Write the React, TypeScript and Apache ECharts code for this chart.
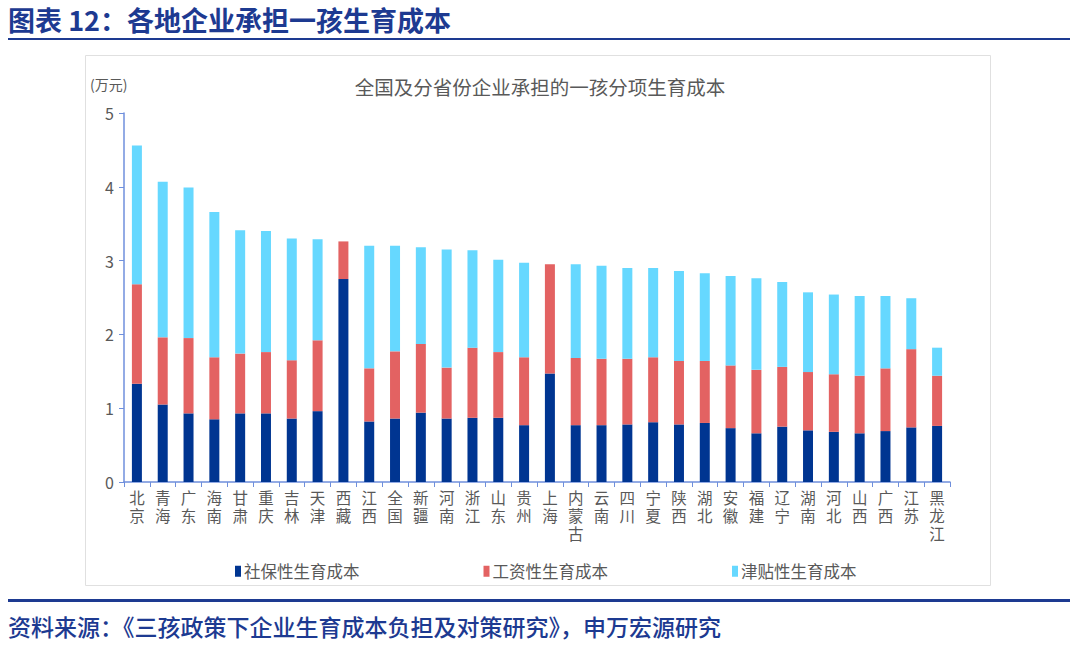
import React, { useEffect, useRef } from "react";
import * as echarts from "echarts";

const categories = ["北京","青海","广东","海南","甘肃","重庆","吉林","天津","西藏","江西","全国","新疆","河南","浙江","山东","贵州","上海","内蒙古","云南","四川","宁夏","陕西","湖北","安徽","福建","辽宁","湖南","河北","山西","广西","江苏","黑龙江"];
const socialCost = [1.33,1.05,0.93,0.85,0.93,0.93,0.86,0.96,2.75,0.82,0.86,0.94,0.86,0.87,0.87,0.77,1.47,0.77,0.77,0.78,0.81,0.78,0.80,0.73,0.66,0.75,0.70,0.68,0.66,0.69,0.74,0.76];
const wageCost = [1.35,0.91,1.02,0.84,0.81,0.83,0.79,0.96,0.51,0.72,0.91,0.93,0.69,0.95,0.89,0.92,1.48,0.91,0.90,0.89,0.88,0.86,0.84,0.85,0.86,0.81,0.79,0.78,0.78,0.85,1.06,0.68];
const allowanceCost = [1.88,2.11,2.04,1.97,1.67,1.64,1.65,1.37,0,1.66,1.43,1.31,1.60,1.32,1.25,1.28,0,1.27,1.26,1.23,1.21,1.22,1.19,1.21,1.24,1.15,1.08,1.08,1.08,0.98,0.69,0.38];
const seriesNames = ["社保性生育成本","工资性生育成本","津贴性生育成本"];
const yTicks = [0, 1, 2, 3, 4, 5];

const FONT = "'Noto Sans CJK SC', 'Noto Sans', sans-serif";
const NAVY = "#1d3a91";

export default function App() {
  const ref = useRef<HTMLDivElement>(null);
  useEffect(() => {
    const chart = echarts.init(ref.current!, null, { renderer: "svg" });
    const mk = (name: string, data: number[], color: string) => ({
      name,
      type: "bar",
      stack: "total",
      barWidth: 10,
      data,
      itemStyle: { color },
    });
    chart.setOption({
      animation: false,
      textStyle: { fontFamily: FONT },
      graphic: [
        { type: "text", left: 8, top: 6, style: { text: "图表 12：各地企业承担一孩生育成本", font: `bold 27px ${FONT}`, fill: NAVY } },
        { type: "rect", shape: { x: 8, y: 38, width: 1062, height: 2 }, style: { fill: NAVY } },
        { type: "rect", shape: { x: 85.5, y: 55.5, width: 905, height: 530 }, style: { fill: "none", stroke: "#e0e0e0", lineWidth: 1 } },
        { type: "text", x: 540, y: 86, style: { text: "全国及分省份企业承担的一孩分项生育成本", font: `19.5px ${FONT}`, fill: "#595959", align: "center", verticalAlign: "middle" } },
        { type: "text", x: 90, y: 84, style: { text: "(万元)", font: `14px ${FONT}`, fill: "#595959", verticalAlign: "middle" } },
        { type: "rect", shape: { x: 8, y: 599, width: 1062, height: 3 }, style: { fill: NAVY } },
        { type: "text", left: 8, top: 614, style: { text: "资料来源：《三孩政策下企业生育成本负担及对策研究》，申万宏源研究", font: `500 23px ${FONT}`, fill: NAVY } },
      ],
      legend: {
        left: 230,
        top: 558,
        itemWidth: 6,
        itemHeight: 11,
        itemGap: 124,
        icon: "rect",
        textStyle: { fontSize: 16.5, color: "#595959", fontFamily: FONT, padding: [0, 0, 0, -2] },
        data: seriesNames,
      },
      grid: { left: 124, right: 130, top: 113, bottom: 169, containLabel: false },
      xAxis: {
        type: "category",
        data: categories,
        axisLine: { lineStyle: { color: "#6f8fdc", width: 1.5 } },
        axisTick: { show: true, alignWithLabel: false, length: 5, lineStyle: { color: "#6f8fdc" } },
        axisLabel: {
          interval: 0,
          color: "#595959",
          fontSize: 15.5,
          lineHeight: 18,
          margin: 6,
          formatter: (v: string) => v.split("").join("\n"),
        },
      },
      yAxis: {
        type: "value",
        min: yTicks[0],
        max: yTicks[yTicks.length - 1],
        interval: 1,
        splitLine: { show: false },
        axisLine: { show: true, lineStyle: { color: "#6f8fdc", width: 1.5 } },
        axisTick: { show: true, length: 5, lineStyle: { color: "#6f8fdc" } },
        axisLabel: { color: "#595959", fontSize: 16, margin: 10 },
      },
      series: [
        mk(seriesNames[0], socialCost, "#003591"),
        mk(seriesNames[1], wageCost, "#e36262"),
        mk(seriesNames[2], allowanceCost, "#66d8ff"),
      ],
    });
    return () => chart.dispose();
  }, []);
  return <div ref={ref} style={{ position: "fixed", left: 0, top: 0, width: 1080, height: 651, background: "#fff" }} />;
}
